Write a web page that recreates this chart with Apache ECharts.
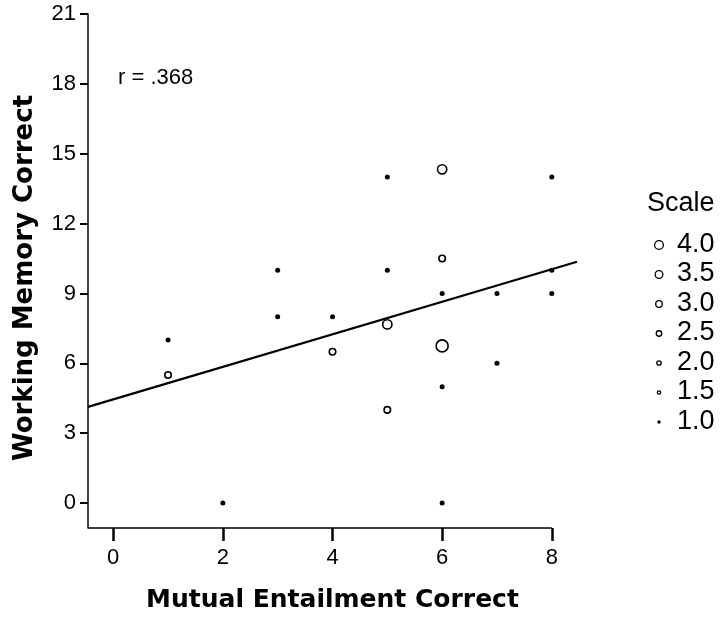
<!DOCTYPE html>
<html>
<head>
<meta charset="utf-8">
<script src="https://cdn.jsdelivr.net/npm/echarts@6/dist/echarts.min.js"></script>
<style>
  html, body { margin: 0; padding: 0; background: #fff; }
  #chart { width: 727px; height: 618px; }
</style>
</head>
<body>
<div id="chart"></div>
<script>
// values
const meX = [1, 1, 2, 3, 3, 4, 4, 5, 5, 5, 5, 6, 6, 6, 6, 6, 6, 7, 7, 8, 8, 8]
const wmY = [7, 5.5, 0, 10, 8, 8, 6.5, 14, 10, 7.67, 4, 14.33, 10.5, 9, 6.75, 5, 0, 9, 6, 14, 10, 9]
const caseScale = [1, 2, 1, 1, 1, 1, 2, 1, 1, 3, 2, 3, 2, 1, 4, 1, 1, 1, 1, 1, 1, 1]
const fitX = [-0.46, 8.46]
const fitY = [4.13, 10.36]
const xTicks = [0, 2, 4, 6, 8]
const yTicks = [0, 3, 6, 9, 12, 15, 18, 21]
const scaleLevels = ['4.0', '3.5', '3.0', '2.5', '2.0', '1.5', '1.0']
const rText = 'r = .368'

const xMin = -0.46
const xMax = 8.46
const yMin = -1.07

const numFont = 'Liberation Sans'
const titleFont = 'DejaVu Sans'

let points = meX.map((x, i) => {
  let s = caseScale[i]
  let item = { value: [x, wmY[i], s] }
  if (s === 1) {
    item.itemStyle = { color: '#000', borderWidth: 0 }
  }
  return item
})

// legend drawn as graphic (icon size differs per item)
let legendEls = [{
  type: 'text',
  left: 647,
  top: 190,
  style: { text: 'Scale', font: '27px ' + numFont, fill: '#000' }
}]
scaleLevels.forEach((lv, i) => {
  let cy = 245 + i * 29.5
  let v = parseFloat(lv)
  if (v === 1) {
    legendEls.push({ type: 'circle', shape: { cx: 659, cy: cy, r: 1.7 }, style: { fill: '#000' } })
  } else {
    legendEls.push({ type: 'circle', shape: { cx: 659, cy: cy, r: v * 1.1 }, style: { fill: '#fff', stroke: '#000', lineWidth: 1.3 } })
  }
  legendEls.push({
    type: 'text',
    left: 677,
    top: cy - 14,
    style: { text: lv, font: '27px ' + numFont, fill: '#000' }
  })
})
legendEls.push({
  type: 'text',
  left: 118,
  top: 67,
  style: { text: rText, font: '22px ' + numFont, fill: '#000' }
})

let chart = echarts.init(document.getElementById('chart'))
let option = {
  animation: false,
  backgroundColor: '#fff',
  grid: { left: 88, top: 14, width: 489, height: 514 },
  xAxis: {
    type: 'value',
    min: xMin,
    max: xMax,
    name: 'Mutual Entailment Correct',
    nameLocation: 'middle',
    nameGap: 60,
    nameTextStyle: { fontFamily: titleFont, fontWeight: 'bold', fontSize: 25, color: '#000' },
    // the drawn axis line stops at 8, see markLine below
    axisLine: { show: false, onZero: false },
    axisTick: { show: true, customValues: xTicks, length: 13, lineStyle: { color: '#000', width: 2.5 } },
    axisLabel: { customValues: xTicks, margin: 19, fontFamily: numFont, fontSize: 22, color: '#000' },
    splitLine: { show: false }
  },
  yAxis: {
    type: 'value',
    min: yMin,
    max: 21,
    name: 'Working Memory Correct',
    nameLocation: 'middle',
    nameGap: 50,
    nameTextStyle: { fontFamily: titleFont, fontWeight: 'bold', fontSize: 26, color: '#000', padding: [0, 14, 0, 0] },
    axisLine: { onZero: false, lineStyle: { color: '#000', width: 1.5 } },
    axisTick: { show: true, customValues: yTicks, length: 8, lineStyle: { color: '#000', width: 2 } },
    axisLabel: { customValues: yTicks, margin: 12, fontFamily: numFont, fontSize: 22, color: '#000' },
    splitLine: { show: false }
  },
  graphic: legendEls,
  series: [
    {
      type: 'line',
      data: fitX.map((x, i) => [x, fitY[i]]),
      showSymbol: false,
      lineStyle: { color: '#000', width: 2.2 },
      silent: true,
      markLine: {
        silent: true,
        symbol: 'none',
        label: { show: false },
        lineStyle: { color: '#000', width: 1.5, type: 'solid' },
        data: [[{ coord: [xMin, yMin] }, { coord: [xTicks[xTicks.length - 1], yMin] }]]
      }
    },
    {
      type: 'scatter',
      data: points,
      symbol: 'circle',
      symbolSize: function (val) {
        return val[2] === 1 ? 5 : 2.75 * val[2] + 1
      },
      itemStyle: { color: '#fff', borderColor: '#000', borderWidth: 1.6, opacity: 1 }
    }
  ]
}
chart.setOption(option)
</script>
</body>
</html>
